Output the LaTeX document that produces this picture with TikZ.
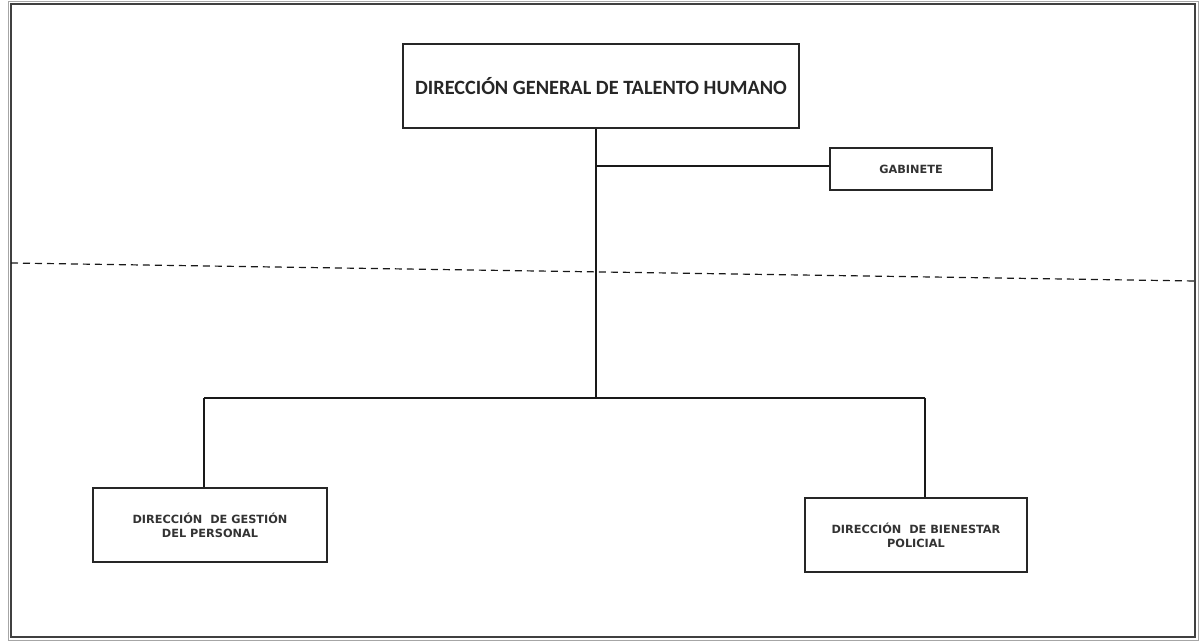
\documentclass[tikz,border=0pt]{standalone}
\usepackage{fontspec}
\setmainfont{DejaVu Sans}
\newfontfamily\calfont{Carlito}
\begin{document}
\begin{tikzpicture}[x=1pt,y=-1pt,
  box/.style={draw=black!85, line width=1.4pt, fill=white, inner sep=0pt, align=center},
  conn/.style={draw=black!90, line width=1.2pt},
  small/.style={font=\fontsize{11.3}{14}\selectfont\bfseries, text=black!80}]
\useasboundingbox (0,0) rectangle (1203,644);
\fill[white] (0,0) rectangle (1203,644);
\draw[black!75, line width=1.6pt] (11,4) rectangle (1195,637);
\draw[black!35, line width=0.6pt] (8,1) rectangle (1198,640);
% nodes
\node[box, minimum width=396pt, minimum height=84pt, font=\calfont\fontsize{20.3}{24}\selectfont\bfseries, text=black!85] (dg) at (601,86) {\raisebox{-3pt}{DIRECCIÓN GENERAL DE TALENTO HUMANO}};
\node[box, small, minimum width=162pt, minimum height=42pt] (gab) at (911,169) {GABINETE};
\node[box, small, minimum width=234pt, minimum height=74pt] (dgp) at (210,525) {DIRECCIÓN\ \ DE GESTIÓN\\DEL PERSONAL};
\node[box, small, minimum width=222pt, minimum height=74pt] (dbp) at (916,535) {DIRECCIÓN\ \ DE BIENESTAR\\POLICIAL};
% coordinates
\coordinate (trunk) at (596,398);
\coordinate (lft) at (204,398);
\coordinate (rgt) at (925,398);
\coordinate (gj) at (596,166);
\coordinate (dl) at (11,263);
\coordinate (dr) at (1195,281);
% connectors
\draw[conn] (dg.south -| trunk) -- (trunk);
\draw[conn] (gj) -- (gab.west |- gj);
\draw[conn] (lft) -- (rgt);
\draw[conn] (lft) -- (dgp.north -| lft);
\draw[conn] (rgt) -- (dbp.north -| rgt);
\draw[black!90, line width=1.2pt, dash pattern=on 7pt off 5pt] (dl) -- (dr);
\end{tikzpicture}
\end{document}
